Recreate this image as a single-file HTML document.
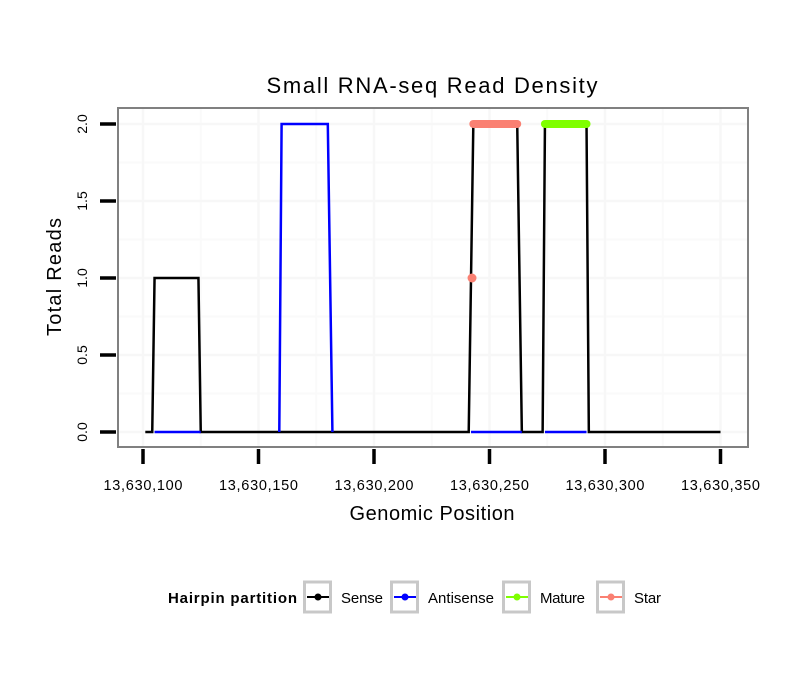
<!DOCTYPE html>
<html><head><meta charset="utf-8"><style>
body{margin:0;background:#fff}
svg text{font-family:"Liberation Sans",sans-serif}
</style></head><body>
<svg id="c" width="810" height="690" xmlns="http://www.w3.org/2000/svg">
<rect width="810" height="690" fill="#fff"/>
<text x="432" y="93" font-size="22" text-anchor="middle" textLength="331">Small RNA-seq Read Density</text>
<g id="grid"></g>
<g id="series"></g>
<rect x="118" y="108" width="630" height="339" fill="none" stroke="#808080" stroke-width="2"/>
<g id="axes"></g>
<text x="432" y="520" font-size="20" text-anchor="middle" textLength="165">Genomic Position</text>
<text transform="translate(61,277) rotate(-90)" font-size="20" text-anchor="middle" textLength="118">Total Reads</text>
<g>
<text x="168" y="603" font-size="15" font-weight="bold" textLength="129">Hairpin partition</text>
<g id="legend"></g>
</g>
</svg>
<script>
const xTicks=[13630100,13630150,13630200,13630250,13630300,13630350];
const xTickLabels=["13,630,100","13,630,150","13,630,200","13,630,250","13,630,300","13,630,350"];
const yTicks=[0,0.5,1,1.5,2];
const yTickLabels=["0.0","0.5","1.0","1.5","2.0"];
const sensePos=[13630101,13630104,13630105,13630124,13630125,13630241,13630242,13630243,13630262,13630264,13630273,13630274,13630292,13630293,13630350];
const senseVal=[0,0,1,1,0,0,1,2,2,0,0,2,2,0,0];
const antiPos=[13630105,13630125,null,13630159,13630160,13630180,13630181,13630182,null,13630242,13630264,null,13630274,13630292];
const antiVal=[0,0,null,0,2,2,1,0,null,0,0,null,0,0];
const starPos=[13630243,13630262];
const starVal=[2,2];
const starDotPos=[13630242];
const starDotVal=[1];
const maturePos=[13630274,13630292];
const matureVal=[2,2];
const legendLabels=["Sense","Antisense","Mature","Star"];
const legendColors=["#000000","#0000ff","#7fff00","#fa8072"];

const NS="http://www.w3.org/2000/svg";
const X=p=>143+(p-13630100)*2.31;
const Y=v=>432-v*154;
function mk(t,a,parent){const e=document.createElementNS(NS,t);for(const k in a)e.setAttribute(k,a[k]);parent.appendChild(e);return e;}
const grid=document.getElementById('grid'),axes=document.getElementById('axes'),ser=document.getElementById('series'),leg=document.getElementById('legend');
for(let i=0;i<xTicks.length-1;i++){const xm=X((xTicks[i]+xTicks[i+1])/2);const g=mk('line',{x1:xm,x2:xm,y1:109,y2:446,stroke:'#fafafa','stroke-width':2},grid);}
for(let i=0;i<yTicks.length-1;i++){const ym=Y((yTicks[i]+yTicks[i+1])/2);const g=mk('line',{x1:119,x2:747,y1:ym,y2:ym,stroke:'#fafafa','stroke-width':2},grid);}
xTicks.forEach((t,i)=>{const x=X(t);
 if(x<747){const g=mk('line',{x1:x,x2:x,y1:109,y2:446,stroke:'#f7f7f7','stroke-width':2.5},grid);}
 const tk=mk('line',{x1:x,x2:x,y1:449,y2:464,stroke:'#000','stroke-width':3.5},axes);
 const tx=mk('text',{x:x,y:490,'font-size':14.5,'text-anchor':'middle',textLength:79},axes);tx.textContent=xTickLabels[i];});
yTicks.forEach((t,i)=>{const y=Y(t);
 const g=mk('line',{x1:119,x2:747,y1:y,y2:y,stroke:'#f7f7f7','stroke-width':2.5},grid);
 const tk=mk('line',{x1:100,x2:116,y1:y,y2:y,stroke:'#000','stroke-width':3.5},axes);
 const tx=mk('text',{transform:`translate(87,${y}) rotate(-90)`,'font-size':14,'text-anchor':'middle'},axes);tx.textContent=yTickLabels[i];});
function pathD(ps,vs){let d='',start=true;for(let i=0;i<ps.length;i++){if(ps[i]===null){start=true;continue;}d+=(start?'M':'L')+X(ps[i])+','+Y(vs[i]);start=false;}return d;}
const s=mk('path',{d:pathD(sensePos,senseVal),fill:'none',stroke:'#000','stroke-width':2.5},ser);

const a=mk('path',{d:pathD(antiPos,antiVal),fill:'none',stroke:'#0000ff','stroke-width':2.5},ser);

const st=mk('path',{d:pathD(starPos,starVal),fill:'none',stroke:'#fa8072','stroke-width':8,'stroke-linecap':'round'},ser);

starDotPos.forEach((p,i)=>{const c=mk('circle',{cx:X(p)+1,cy:Y(starDotVal[i]),r:4.5,fill:'#fa8072'},ser);});
const m=mk('path',{d:pathD(maturePos,matureVal),fill:'none',stroke:'#7fff00','stroke-width':8,'stroke-linecap':'round'},ser);

const boxX=[303,390,502,596];
const textW=[42,66,45,27];
legendLabels.forEach((l,i)=>{const bx=boxX[i];
 const r=mk('rect',{x:bx+1.5,y:582,width:26,height:30,fill:'#fff',stroke:'#c8c8c8','stroke-width':3},leg);
 const ln=mk('line',{x1:bx+4,x2:bx+26,y1:597,y2:597,stroke:legendColors[i],'stroke-width':2},leg);
 const c=mk('circle',{cx:bx+15,cy:597,r:3.5,fill:legendColors[i]},leg);
 const t=mk('text',{x:bx+38,y:603,'font-size':15,textLength:textW[i]},leg);t.textContent=l;});
</script>
</body></html>
